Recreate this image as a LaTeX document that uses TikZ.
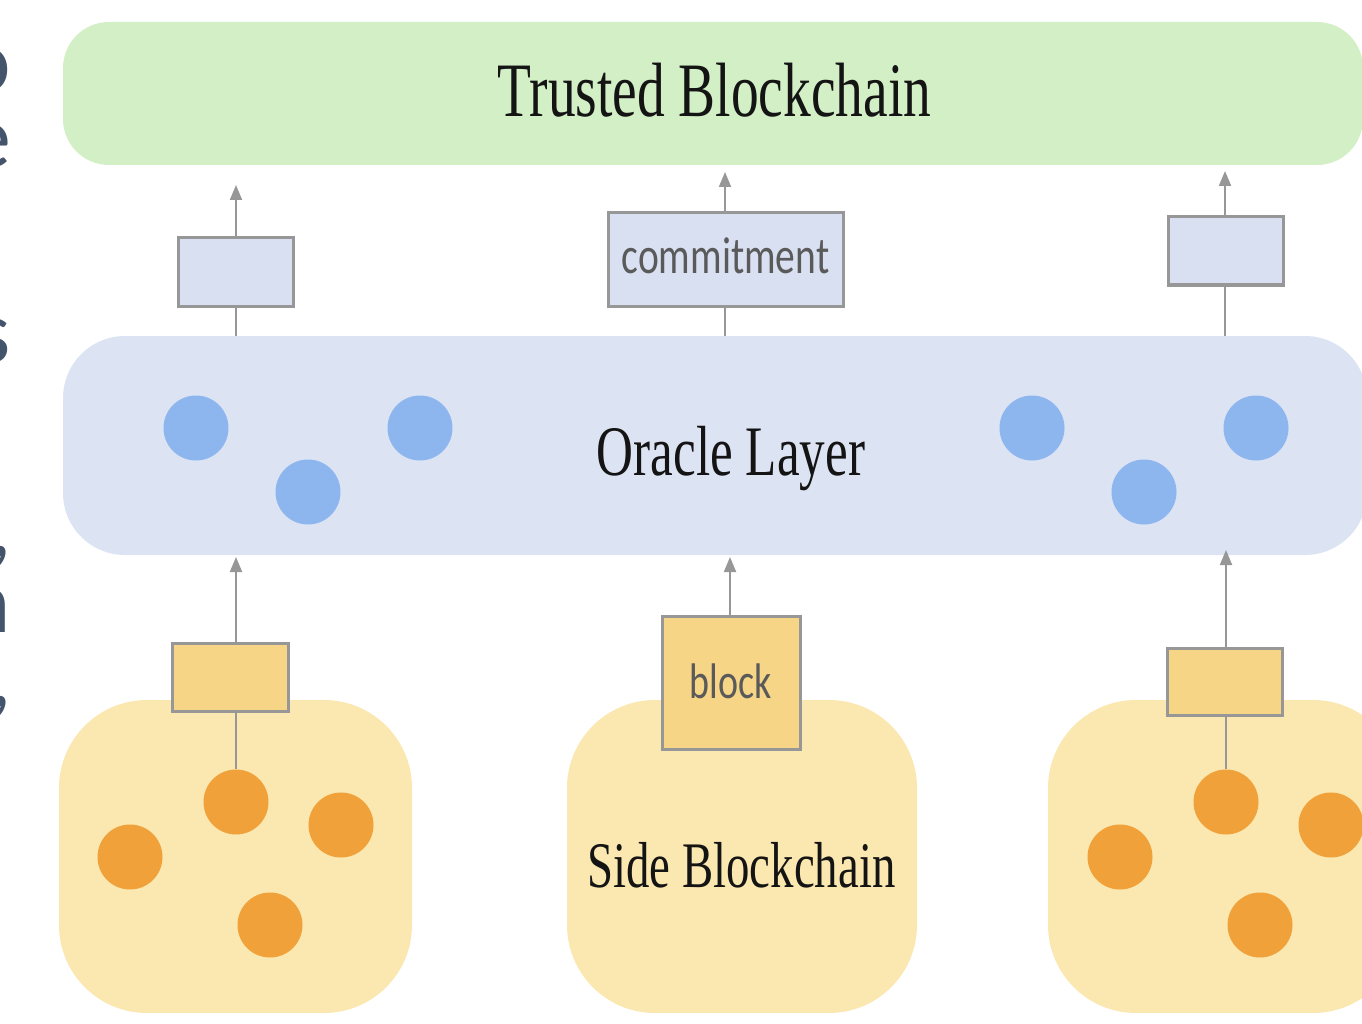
\documentclass[tikz,border=0pt]{standalone}
\usepackage{fontspec}
\usetikzlibrary{arrows.meta}

% narrow serif for layer names, compact sans for box tags
\newfontfamily\layerfont[FakeStretch=0.72]{Liberation Serif}
\newfontfamily\tagfont[FakeStretch=0.76]{Carlito}
\newfontfamily\notefont{Carlito}

\definecolor{trustgreen}{HTML}{D3EFC5}
\definecolor{oracleblue}{HTML}{DCE3F2}
\definecolor{commitfill}{HTML}{D9E0F1}
\definecolor{nodeblue}{HTML}{8DB6EE}
\definecolor{sidecream}{HTML}{FBE8B0}
\definecolor{blockgold}{HTML}{F7D586}
\definecolor{peerorange}{HTML}{F1A13A}
\definecolor{edgegrey}{HTML}{979797}
\definecolor{taggrey}{HTML}{5A5A5A}
\definecolor{slatetext}{HTML}{44546A}

\begin{document}
\begin{tikzpicture}[x=1pt,y=-1pt,
  band/.style={draw=none,inner sep=0pt,rectangle},
  layertext/.style={inner sep=0pt,anchor=base,text=black!92},
  commitbox/.style={draw=edgegrey,line width=3pt,fill=commitfill,inner sep=0pt},
  blockbox/.style={draw=edgegrey,line width=3pt,fill=blockgold,inner sep=0pt},
  tagtext/.style={inner sep=0pt,anchor=base,text=taggrey},
  oraclenode/.style={circle,fill=nodeblue,draw=none,minimum size=65pt,inner sep=0pt},
  peer/.style={circle,fill=peerorange,draw=none,minimum size=65pt,inner sep=0pt},
  link/.style={draw=edgegrey,line width=2pt},
  uparrow/.style={link,-{Triangle[length=15pt,width=12pt]}},
  fragment/.style={inner sep=0pt,anchor=base east,text=slatetext,
    text height=44pt,text depth=0pt,font=\notefont\fontsize{90}{96}\selectfont},
  fragcomma/.style={fragment,text height=8pt,text depth=14pt}
]
\useasboundingbox (0,0) rectangle (1362,1024);
\clip (0,0) rectangle (1362,1024);

% line ends of the neighbouring text column
\node[fragment] (fa) at (11,92) {o};
\node[fragment] (fb) at (11,168) {e};
\node[fragment] (fc) at (11,362) {s};
\node[fragcomma] (fd) at (12,556) {,};
\node[fragment] (fe) at (11,632) {n};
\node[fragcomma] (ff) at (12,706) {,};

% trusted chain
\node[band,fill=trustgreen,minimum width=1300pt,minimum height=143pt,rounded corners=46pt] (trusted) at (713,93.5) {};
\node[layertext,font=\layerfont\fontsize{77}{80}\selectfont] (trustedlabel) at (714.5,117) {Trusted Blockchain};

% oracle layer
\node[band,fill=oracleblue,minimum width=1304pt,minimum height=219pt,rounded corners=62pt] (oracle) at (715,445.5) {};
\node[layertext,font=\layerfont\fontsize{71}{74}\selectfont] (oraclelabel) at (731,475) {Oracle Layer};
\node[oraclenode] (o1) at (196,428) {};
\node[oraclenode] (o2) at (308,492) {};
\node[oraclenode] (o3) at (420,428) {};
\node[oraclenode] (o4) at (1032,428) {};
\node[oraclenode] (o5) at (1144,492) {};
\node[oraclenode] (o6) at (1256,428) {};

% side chains
\node[band,fill=sidecream,minimum width=353pt,minimum height=313pt,rounded corners=88pt] (sideL) at (235.5,856.5) {};
\node[band,fill=sidecream,minimum width=350pt,minimum height=313pt,rounded corners=88pt] (sideM) at (742,856.5) {};
\node[band,fill=sidecream,minimum width=353pt,minimum height=313pt,rounded corners=88pt] (sideR) at (1224.5,856.5) {};
\node[layertext,font=\layerfont\fontsize{65}{68}\selectfont] (sidelabel) at (741.5,887) {Side Blockchain};

\node[peer] (p1) at (130,857) {};
\node[peer] (p2) at (236,802) {};
\node[peer] (p3) at (341,825) {};
\node[peer] (p4) at (270,925) {};
\node[peer] (q1) at (1120,857) {};
\node[peer] (q2) at (1226,802) {};
\node[peer] (q3) at (1331,825) {};
\node[peer] (q4) at (1260,925) {};

% commitments towards the trusted chain
\node[commitbox,minimum width=115pt,minimum height=68pt] (cL) at (235.5,272) {};
\node[commitbox,minimum width=235pt,minimum height=93pt] (cM) at (725.5,259.5) {};
\node[tagtext,font=\tagfont\fontsize{52}{56}\selectfont] (cMtext) at (725.5,273) {commitment};
\node[commitbox,minimum width=115pt,minimum height=68pt] (cR) at (1225.5,251) {};

\coordinate (tipL) at (236,185);
\coordinate (tipM) at (725,172);
\coordinate (tipR) at (1225,171);
\draw[uparrow] (cL.north -| tipL) -- (tipL);
\draw[uparrow] (cM.north -| tipM) -- (tipM);
\draw[uparrow] (cR.north -| tipR) -- (tipR);
\draw[link] (oracle.north -| tipL) -- (cL.south -| tipL);
\draw[link] (oracle.north -| tipM) -- (cM.south -| tipM);
\draw[link] (oracle.north -| tipR) -- (cR.south -| tipR);

% blocks towards the oracle layer
\node[blockbox,minimum width=116pt,minimum height=68pt] (bL) at (230,677) {};
\node[blockbox,minimum width=138pt,minimum height=133pt] (bM) at (731,682.5) {};
\node[tagtext,font=\tagfont\fontsize{50}{54}\selectfont] (bMtext) at (730.5,698) {block};
\node[blockbox,minimum width=115pt,minimum height=67pt] (bR) at (1224.5,682) {};

\coordinate (upL) at (236,557);
\coordinate (upM) at (730,557);
\coordinate (upR) at (1226,550);
\draw[uparrow] (bL.north -| p2) -- (upL);
\draw[uparrow] (bM.north -| upM) -- (upM);
\draw[uparrow] (bR.north -| q2) -- (upR);
\draw[link] (bL.south -| p2) -- (p2.north);
\draw[link] (bR.south -| q2) -- (q2.north);
\end{tikzpicture}
\end{document}
